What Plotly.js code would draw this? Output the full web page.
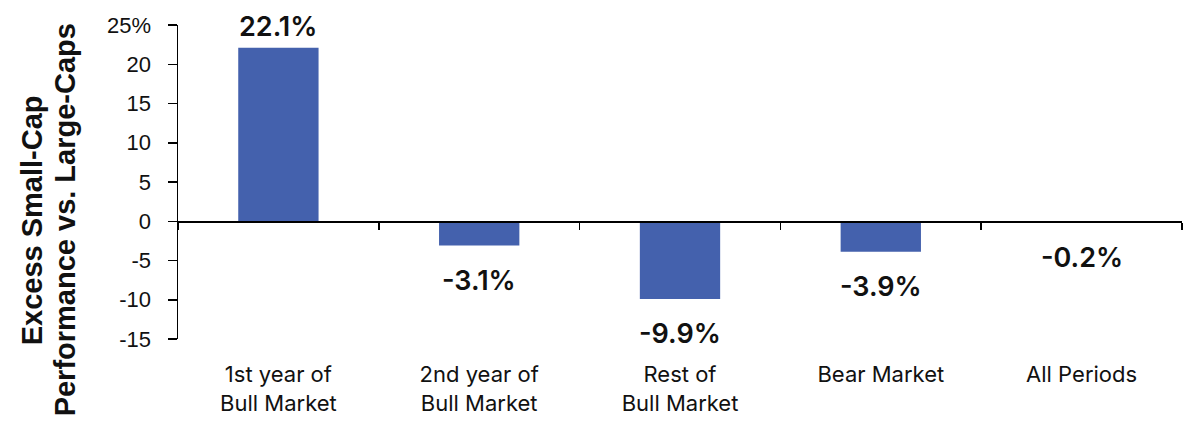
<!DOCTYPE html>
<html>
<head>
<meta charset="utf-8">
<script src="https://cdn.plot.ly/plotly-3.0.1.min.js"></script>
<style>html,body{margin:0;padding:0;background:#fff}#chart{width:1184px;height:425px}</style>
</head>
<body>
<div id="chart"></div>
<script>
const categories = ["1st year of<br>Bull Market", "2nd year of<br>Bull Market", "Rest of<br>Bull Market", "Bear Market", "All Periods"];
const excessReturn = [22.1, -3.1, -9.9, -3.9, -0.2];
const yTickVals = [-15, -10, -5, 0, 5, 10, 15, 20, 25];
const yTickText = ["-15", "-10", "-5", "0", "5", "10", "15", "20", "25%"];
const yTitleLines = ["Excess Small-Cap", "Performance vs. Large-Caps"];

const barColor = "#4461ad";

const annotations = excessReturn.map((v, i) => ({
  x: categories[i], y: v, xref: "x", yref: "y",
  text: v.toFixed(1) + "%",
  showarrow: false,
  xanchor: "center",
  yanchor: v >= 0 ? "bottom" : "top",
  yshift: v >= 0 ? 3 : -16,
  font: {family: "Inter, 'Liberation Sans', sans-serif", size: 27, color: "#111", weight: 600}
}));
const titleX = [-0.1454, -0.1125];
yTitleLines.forEach((t, i) => annotations.push({
  text: t, textangle: -90, showarrow: false,
  xref: "paper", yref: "paper", x: titleX[i], y: 0.378,
  xanchor: "center", yanchor: "middle",
  font: {family: "'Liberation Sans', Arial, sans-serif", size: 29, color: "#111", weight: 700}
}));

const trace = {
  type: "bar", x: categories, y: excessReturn,
  marker: {color: barColor}, width: 0.4,
  hoverinfo: "x+y"
};

const layout = {
  width: 1184, height: 425,
  margin: {l: 178, r: 2, t: 24.5, b: 85.5, pad: 0},
  paper_bgcolor: "#fff", plot_bgcolor: "#fff",
  showlegend: false,
  xaxis: {
    type: "category", range: [-0.5, 4.5],
    anchor: "free", position: 0.375,
    showline: true, linecolor: "#000", linewidth: 1.5,
    ticks: "outside", tickson: "boundaries", ticklen: 7, tickcolor: "#000", tickwidth: 1.5,
    ticklabelstandoff: 133,
    tickfont: {family: "Inter, 'Liberation Sans', sans-serif", size: 22, color: "#111"},
    showgrid: false, zeroline: false, fixedrange: true
  },
  yaxis: {
    range: [-15, 25], tickvals: yTickVals, ticktext: yTickText,
    showline: true, linecolor: "#000", linewidth: 1.5,
    ticks: "outside", ticklen: 9, tickcolor: "#000", tickwidth: 1.5,
    ticklabelstandoff: 12,
    tickfont: {family: "'Liberation Sans', Arial, sans-serif", size: 22, color: "#111"},
    showgrid: false, zeroline: false, fixedrange: true
  },
  annotations: annotations
};

Plotly.newPlot("chart", [trace], layout, {displayModeBar: false, staticPlot: true});
</script>
</body>
</html>
